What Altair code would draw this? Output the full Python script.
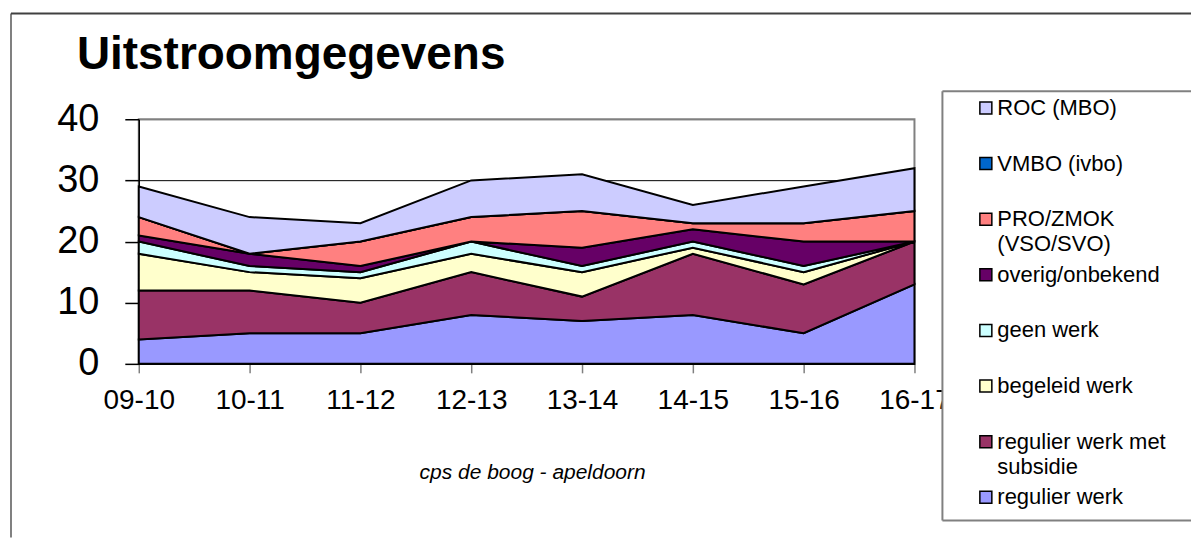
import altair as alt
import pandas as pd

FONT = "Liberation Sans"

years = ["09-10", "10-11", "11-12", "12-13", "13-14", "14-15", "15-16", "16-17"]

# stacking order: bottom -> top
series = [
    "regulier werk",
    "regulier werk met subsidie",
    "begeleid werk",
    "geen werk",
    "overig/onbekend",
    "PRO/ZMOK (VSO/SVO)",
    "VMBO (ivbo)",
    "ROC (MBO)",
]
colors = ["#9999FF", "#993366", "#FFFFCC", "#CCFFFF", "#660066", "#FF8080", "#0066CC", "#CCCCFF"]

regulier_werk = [4, 5, 5, 8, 7, 8, 5, 13]
regulier_subsidie = [8, 7, 5, 7, 4, 10, 8, 7]
begeleid_werk = [6, 3, 4, 3, 4, 1, 2, 0]
geen_werk = [2, 1, 1, 2, 1, 1, 1, 0]
overig_onbekend = [1, 2, 1, 0, 3, 2, 4, 0]
pro_zmok = [3, 0, 4, 4, 6, 1, 3, 5]
vmbo = [0, 0, 0, 0, 0, 0, 0, 0]
roc = [5, 6, 3, 6, 6, 3, 6, 7]

values = [regulier_werk, regulier_subsidie, begeleid_werk, geen_werk,
          overig_onbekend, pro_zmok, vmbo, roc]

# legend, top -> bottom
legend_series = ["ROC (MBO)", "VMBO (ivbo)", "PRO/ZMOK (VSO/SVO)", "overig/onbekend",
                 "geen werk", "begeleid werk", "regulier werk met subsidie", "regulier werk"]
legend_labels = ["ROC (MBO)", "VMBO (ivbo)", "PRO/ZMOK\n(VSO/SVO)", "overig/onbekend",
                 "geen werk", "begeleid werk", "regulier werk met\nsubsidie", "regulier werk"]

rows = []
for k, (name, vals) in enumerate(zip(series, values)):
    for yr, v in zip(years, vals):
        rows.append({"year": yr, "series": name, "value": v, "order": k})
df = pd.DataFrame(rows)

leg_df = pd.DataFrame({"series": legend_series, "label": legend_labels,
                       "slot": list(range(len(legend_series)))})
one = pd.DataFrame({"a": [0]})

color_scale = alt.Scale(domain=series, range=colors)

W, H = 777, 245

area = alt.Chart(df).mark_area(stroke="black", strokeWidth=2, opacity=1, strokeJoin="miter").encode(
    x=alt.X("year:O", sort=years, scale=alt.Scale(type="point", padding=0),
            axis=alt.Axis(title="cps de boog - apeldoorn", titleFont=FONT, titleFontSize=21,
                          titleFontStyle="italic", titleFontWeight="normal", titleColor="black",
                          titleX=394, titleY=109, titleBaseline="middle", titleAlign="center",
                          labelFont=FONT, labelFontSize=28, labelColor="black", labelAngle=0,
                          labelPadding=14, tickSize=9, tickColor="#808080", tickWidth=1.5,
                          domainColor="black", domainWidth=1.5, grid=False,
                          labelFlush=False, labelOverlap=False)),
    y=alt.Y("value:Q", stack="zero", scale=alt.Scale(domain=[0, 40], nice=False),
            axis=alt.Axis(title=None, values=[0, 10, 20, 30, 40], labelFont=FONT,
                          labelFontSize=38, labelColor="black", labelPadding=26,
                          tickSize=14, tickColor="black", tickWidth=1.5,
                          domainColor="black", domainWidth=1.5,
                          grid=True, gridWidth=1,
                          gridColor={"condition": {"test": "datum.value === 40", "value": "#808080"},
                                     "value": "black"},
                          labelFlush=False, labelOverlap=False)),
    color=alt.Color("series:N", scale=color_scale, legend=None),
    order=alt.Order("order:Q"),
)

frame_left = alt.Chart(one).mark_rule(color="#808080", strokeWidth=2).encode(
    x=alt.value(-128), y=alt.value(-106), y2=alt.value(419))
frame_top = alt.Chart(one).mark_rule(color="#404040", strokeWidth=2).encode(
    x=alt.value(-128), x2=alt.value(1054), y=alt.value(-106))

main = alt.layer(frame_left, frame_top, area).properties(
    width=W, height=H,
    view=alt.ViewBackground(stroke="#808080", strokeWidth=2),
    title=alt.TitleParams("Uitstroomgegevens", anchor="start", frame="group",
                          font=FONT, fontSize=46, fontWeight="bold", color="black",
                          dx=-62, dy=73, offset=6),
)

LW = 249
box = alt.Chart(one).mark_rect(fill="white").encode(
    x=alt.value(0), x2=alt.value(LW), y=alt.value(-28), y2=alt.value(402))
box_l = alt.Chart(one).mark_rule(color="#808080", strokeWidth=2).encode(
    x=alt.value(0), y=alt.value(-28), y2=alt.value(402))
box_t = alt.Chart(one).mark_rule(color="#808080", strokeWidth=2).encode(
    x=alt.value(0), x2=alt.value(LW), y=alt.value(-28))
box_b = alt.Chart(one).mark_rule(color="#808080", strokeWidth=2).encode(
    x=alt.value(0), x2=alt.value(LW), y=alt.value(402))

slot_y = alt.Y("slot:Q", axis=None,
               scale=alt.Scale(domain=[0.203, 4.601], reverse=True, zero=False, nice=False))

squares = alt.Chart(leg_df).mark_square(size=144, stroke="black", strokeWidth=1.5, opacity=1).encode(
    x=alt.value(43.5), y=slot_y,
    color=alt.Color("series:N", scale=color_scale, legend=None))
labels = alt.Chart(leg_df).mark_text(align="left", baseline="middle", font=FONT, fontSize=22,
                                     lineBreak="\n", lineHeight=25, color="black").encode(
    x=alt.value(55), y=slot_y, text="label:N")

legend = alt.layer(box, box_l, box_t, box_b, squares, labels).properties(
    width=LW, height=H, view=alt.ViewBackground(stroke="transparent"))

chart = alt.hconcat(main, legend, spacing=28, bounds="flush",
                    padding={"left": 1, "top": 3, "right": 0, "bottom": 0}).configure(
    background="white")

chart.save("out.html", embed_options={"renderer": "svg", "actions": False})
